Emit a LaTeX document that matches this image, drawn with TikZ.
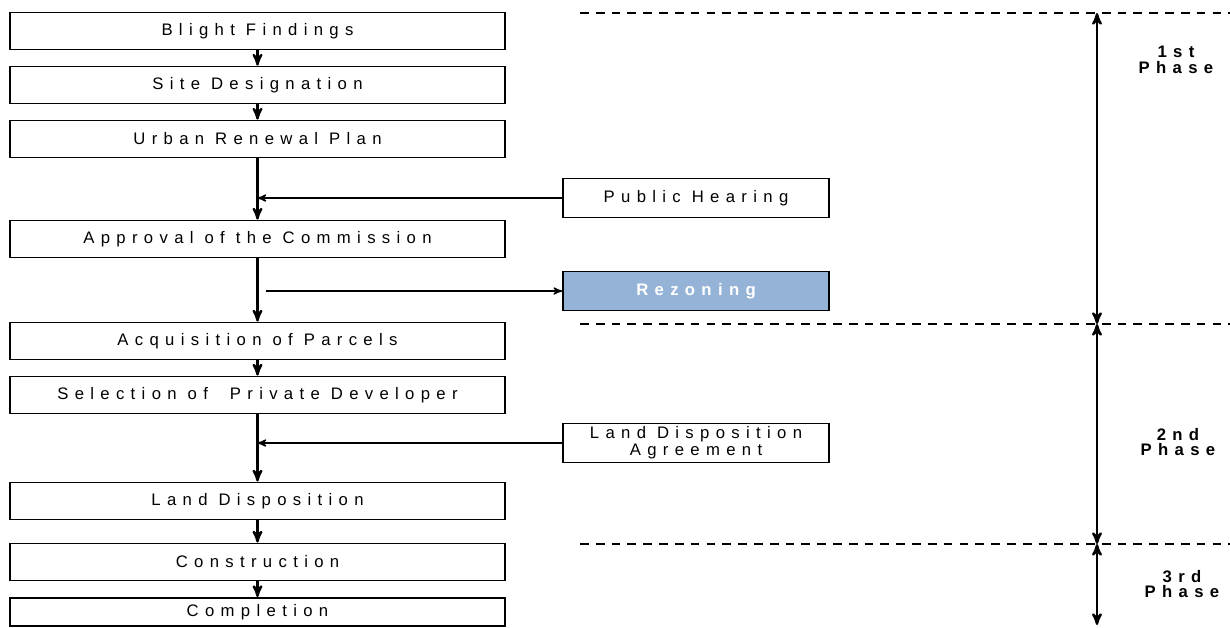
\documentclass[tikz,border=0pt]{standalone}
\usepackage{fontspec}
\newfontfamily\boxfont[LetterSpace=38]{Liberation Sans}
\definecolor{rezblue}{HTML}{95B3D7}
\usetikzlibrary{arrows,positioning}

\begin{document}
\begin{tikzpicture}[->,>=stealth',x=0.02cm,y=-0.02cm,line width=1pt,node distance=1.08cm,
  box/.style={draw,rectangle,minimum width=9.9cm,minimum height=0.74cm,inner sep=0pt,
    font=\boxfont\fontsize{9.5}{10}\selectfont},
  side/.style={box,minimum width=5.32cm,minimum height=0.78cm,align=center},
  phase/.style={align=center,inner sep=0pt,font=\boxfont\bfseries\fontsize{9.5}{9}\selectfont},
  cut/.style={-,line width=0.7pt,dash pattern=on 5pt off 4pt}]
	  \useasboundingbox (0,0) rectangle (1230,627);
	  % main column
	  \node[box] (A) at (257.5,31) {Blight Findings};
	  \node[box] (B) [below of=A] {Site Designation};
	  \node[box] (C) [below of=B] {Urban Renewal Plan};
	  \node[box] (D) [below of=C, node distance=2cm] {Approval of the Commission};
	  \node[box] (E) [below of=D, node distance=2.04cm] {Acquisition of Parcels};
	  \node[box] (F) [below of=E] {Selection of \ Private Developer};
	  \node[box] (G) [below of=F, node distance=2.12cm] {Land Disposition};
	  \node[box] (H) [below of=G, node distance=1.22cm] {Construction};
	  \node[box, minimum height=0.56cm] (I) [below of=H, node distance=1cm] {Completion};
	  % side boxes
	  \node[side] (PH) at (696,198) {Public Hearing};
	  \node[side, fill=rezblue, text=white, font=\boxfont\bfseries\fontsize{9.5}{10}\selectfont] (RZ) at (696,291) {Rezoning};
	  \node[side, font=\boxfont\fontsize{9.5}{8.5}\selectfont] (LDA) at (696,443) {Land Disposition\\Agreement};
	  \path[line width=1.3pt]
(A) edge (B)
(B) edge (C)
(C) edge (D)
(D) edge (E)
(E) edge (F)
(F) edge (G)
(G) edge (H)
(H) edge (I);
	  \path[line width=0.8pt]
(PH) edge (C.south |- PH.west)
([xshift=5pt]D.south |- RZ.west) edge (RZ)
(LDA) edge (F.south |- LDA.west);
	  % phases
	  \coordinate (p0) at (1097,13);
	  \coordinate (p1) at (1097,324);
	  \coordinate (p2) at (1097,544);
	  \coordinate (p3) at (1097,625);
	  \coordinate (l0) at (580,13);
	  \coordinate (l1) at (580,324);
	  \coordinate (l2) at (580,544);
	  \coordinate (r0) at (1230,13);
	  \coordinate (r1) at (1230,324);
	  \coordinate (r2) at (1230,544);
	  \draw[cut] (l0) -- (r0);
	  \draw[cut] (l1) -- (r1);
	  \draw[cut] (l2) -- (r2);
	  \path[line width=1.3pt]
(p0) edge[<->] (p1)
(p1) edge[<->] (p2)
(p2) edge[<->] (p3);
	  \node[phase] (n1) at (1176,60) {1st\\Phase};
	  \node[phase] (n2) at (1178,442) {2nd\\Phase};
	  \node[phase] (n3) at (1182,584) {3rd\\Phase};
	\end{tikzpicture}
\end{document}
